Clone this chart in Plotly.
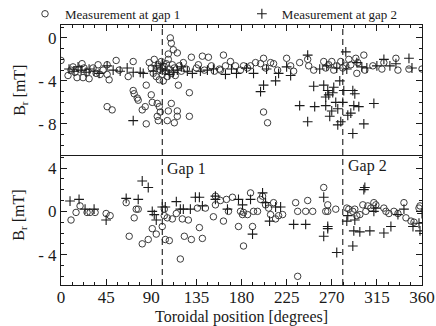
import plotly.graph_objects as go

# ---------------- data ----------------
# upper panel (B_r, mT) : circles = measurement at gap 1
top_gap1_deg = [0, 7, 10, 12, 14, 16, 18, 21, 22, 23, 26, 28, 32, 35, 37, 39, 42, 46, 46, 48, 46, 51, 55, 58,
                67, 72, 72, 73, 76, 77, 85, 81, 84, 90, 91, 96, 98, 99, 96, 97, 106, 113, 116, 107, 110, 116,
                85, 109, 110, 112, 107, 116, 117, 128, 128, 130, 137, 141, 147, 158,
                88, 90, 92, 93, 95, 97, 98, 99, 100, 101, 102, 103, 104, 105, 106, 107, 108, 110, 111, 113,
                114, 118, 120, 122, 125, 135, 143, 150, 153,
                162, 159, 164, 169, 174, 179, 182, 186, 189, 194, 199, 202, 204, 209, 212, 216, 202, 206,
                225, 229, 232, 238, 246, 247, 252, 262, 264, 267, 270, 272, 275, 279, 281, 284, 287, 289,
                294, 296, 295, 302, 303, 311, 320, 322, 334, 336, 347, 360]
top_gap1_val = [-2.1, -3.5, -3.0, -2.7, -3.2, -3.7, -2.9, -2.4, -3.7, -2.8, -3.2, -3.8, -2.8, -3.3, -2.5, -3.4,
                -3.0, -2.5, -3.4, -3.9, -6.4, -6.7, -2.1, -3.0,
                -3.6, -2.2, -4.9, -5.2, -5.6, -5.8, -4.4, -6.7, -6.4, -5.3, -6.0, -6.1, -6.4, -6.9, -7.3, -7.7,
                -7.7, -7.9, -7.3, -6.8, -6.1, -6.8,
                -8.0, 0.0, -0.5, -1.1, -1.5, -1.4, -4.4, -5.1, -7.3, -1.8, -2.5, -1.7, -1.8, -2.9,
                -2.3, -2.8, -3.3, -2.0, -3.6, -2.5, -3.9, -3.0, -2.2, -3.4, -4.0, -2.7, -3.1, -2.4, -3.6, -2.0,
                -2.9, -3.3, -2.5, -2.8, -3.5, -2.6, -3.1, -2.3, -2.9, -2.8, -3.0, -2.6, -3.1,
                -1.6, -3.0, -2.6, -2.2, -2.6, -3.0, -2.6, -2.8, -2.6, -2.3, -2.4, -1.9, -2.8, -2.3, -2.4, -3.0,
                -6.9, -7.9,
                -1.9, -2.6, -3.1, -2.3, -2.0, -2.6, -3.0, -2.2, -2.8, -2.5, -2.2, -3.0, -2.6, -2.2, -2.8, -2.6,
                -2.0, -2.5, -1.9, -2.3, -3.3, -1.6, -3.0, -2.6, -2.9, -2.3, -1.9, -3.0, -2.9, -2.9]

# upper panel : crosses = measurement at gap 2
top_gap2_deg = [8, 13, 17, 20, 25, 28, 33, 38, 46, 52, 59, 66, 72, 79, 82, 92, 99, 104, 112, 126, 131, 139, 146,
                152, 72, 95, 101, 108, 116, 120,
                164, 175, 192, 202, 199, 214, 217, 229, 238, 246, 246, 252, 253, 262, 264, 264, 266, 267, 268,
                270, 271, 272, 274, 276, 276, 278, 279, 281, 282, 284, 286, 289, 291, 291, 292, 293, 297, 302,
                312, 295, 300, 322, 334, 347, 170, 185, 205, 225, 258, 265, 275, 285, 305, 315, 328, 350]
top_gap2_val = [-2.9, -3.1, -2.7, -3.0, -3.2, -2.9, -3.1, -3.3, -2.6, -3.0, -3.1, -2.8, -3.2, -3.2, -3.3, -3.1,
                -2.9, -3.0, -3.2, -3.1, -3.3, -3.1, -3.0, -2.9, -7.7, -2.6, -2.4, -3.4, -3.0, -2.7,
                -3.4, -3.3, -3.3, -4.4, -5.0, -4.0, -3.3, -3.5, -6.3, -1.6, -7.8, -4.5, -6.4, -4.4, -5.5, -6.3,
                -4.9, -5.3, -7.3, -6.8, -5.1, -4.6, -6.0, -6.6, -8.1, -4.0, -7.8, -6.0, -4.9, -1.3, -7.2, -7.0,
                -8.9, -4.9, -6.3, -5.2, -6.4, -8.0, -6.1, -2.3, -2.7, -2.0, -2.4, -1.9, -2.9, -2.8, -2.9, -2.7,
                -2.9, -2.6, -2.8, -2.9, -2.8, -2.6, -2.6, -2.8]

# lower panel : circles = measurement at gap 1
bot_gap1_deg = [10, 15, 19, 26, 29, 34, 45, 49, 65, 68, 73, 75, 77, 81, 87, 91, 95, 101, 103, 103, 104, 108,
                106, 111, 115, 119, 121, 123, 127, 130, 136, 138, 141, 144, 152, 154,
                154, 159, 162, 165, 167, 171, 177, 179, 181, 182, 186, 189, 191, 192, 196, 199, 201, 204, 207,
                209, 212, 214, 217, 221, 182, 234, 236, 236, 244, 246, 251, 262, 264, 266, 266, 274, 285, 287,
                291, 293, 295, 298, 301, 304, 306, 309, 312, 314, 322, 324, 327, 332, 336, 342, 344, 349, 352,
                357, 358]
bot_gap1_val = [-0.8, -0.1, 0.5, -0.1, -0.1, -0.1, -0.2, -0.4, 0.8, -2.3, -0.6, 0.2, 0.2, -3.0, -2.6, -1.6,
                -2.1, -1.4, 0.2, -0.4, -2.6, -2.7, -0.6, -0.7, -0.2, -4.4, -0.7, -2.3, -0.8, -2.6, 0.3, -1.5,
                -2.5, 0.3, -0.5, 0.6,
                1.4, 1.0, -0.9, 1.1, 0.0, 1.3, -1.4, 0.0, -0.3, -0.1, -0.3, 1.7, -1.4, 0.0, 0.0, 1.1, 1.4, 0.6,
                0.3, -0.3, 0.8, -0.7, -0.4, -0.3, -3.2, 0.8, 0.0, -6.0, 0.0, 1.0, 0.0, 2.2, 0.0, 0.6, 0.0, 0.2,
                0.3, 0.2, 0.0, 0.2, -0.4, -0.3, 0.6, 0.0, 0.5, 0.3, 0.8, 0.6, 0.3, 0.0, -0.2, 0.0, -0.2, 0.8,
                -0.6, -0.9, -1.0, 0.3, 0.5]

# lower panel : crosses = measurement at gap 2
bot_gap2_deg = [9, 18, 24, 33, 45, 65, 77, 81, 87, 91, 93, 95, 101, 104, 115, 119, 122, 129, 134, 138, 141,
                154, 154, 166, 177, 181, 189, 191, 201, 204, 208, 214, 219, 232, 244, 262, 262, 266, 266, 275,
                285, 286, 291, 292, 293, 298, 302, 303, 308, 312, 314, 322, 329, 336, 342, 351, 357, 358, 360]
bot_gap2_val = [0.95, 1.1, 0.2, 0.2, -0.8, 1.2, 1.1, 2.8, 2.2, 0.0, -0.3, -0.8, 0.4, 0.4, 0.9, 0.2, 0.2, 0.2,
                1.3, 1.3, 0.5, 1.4, 1.1, 0.2, 1.1, 0.6, 1.1, -2.1, 1.7, 0.8, -0.9, 0.4, 0.4, -1.2, -1.2, 1.3,
                -2.3, -1.6, -1.4, -3.8, -0.9, -0.4, -3.2, -1.8, -0.8, -1.9, 2.0, 2.2, -1.8, 0.0, 0.3, -2.0,
                -1.4, -0.3, 0.2, -1.4, -1.1, -1.8, -0.2]

gap_positions = [101, 281]
gap_labels = ["Gap 1", "Gap 2"]
x_ticks = [0, 45, 90, 135, 180, 225, 270, 315, 360]
top_yticks = [0, -4, -8]
top_yticktext = ["0", "- 4", "- 8"]
bot_yticks = [4, 0, -4]
bot_yticktext = ["4", "0", "- 4"]
x_title = "Toroidal position [degrees]"
y_title = "B<sub>r</sub> [mT]"

# ---------------- figure ----------------
FONT = "Liberation Serif"
INK = "#1a1a1a"
CIRC = "#3c3c3c"

fig = go.Figure()
circ_marker = dict(symbol="circle-open", size=6.5, color=CIRC, line=dict(width=1, color=CIRC))
plus_marker = dict(symbol="cross-thin-open", size=7, color=INK, line=dict(width=1.1, color=INK))

fig.add_trace(go.Scatter(x=top_gap1_deg, y=top_gap1_val, mode="markers", marker=circ_marker,
                         name="Measurement at gap 1", xaxis="x2", yaxis="y2", legend="legend"))
fig.add_trace(go.Scatter(x=top_gap2_deg, y=top_gap2_val, mode="markers", marker=plus_marker,
                         name="Measurement at gap 2", xaxis="x2", yaxis="y2", legend="legend2"))
fig.add_trace(go.Scatter(x=bot_gap1_deg, y=bot_gap1_val, mode="markers", marker=circ_marker,
                         name="Measurement at gap 1", showlegend=False, xaxis="x", yaxis="y"))
fig.add_trace(go.Scatter(x=bot_gap2_deg, y=bot_gap2_val, mode="markers", marker=plus_marker,
                         name="Measurement at gap 2", showlegend=False, xaxis="x", yaxis="y"))

for g in gap_positions:
    fig.add_shape(type="line", x0=g, x1=g, xref="x", y0=0, y1=1, yref="paper",
                  line=dict(color=INK, width=1.1, dash="6px,4px"))

fig.add_annotation(x=gap_positions[0] + 3, y=3.9, xref="x", yref="y", text=gap_labels[0],
                   showarrow=False, xanchor="left", font=dict(family=FONT, size=16, color=INK))
fig.add_annotation(x=gap_positions[1] + 3, y=4.2, xref="x", yref="y", text=gap_labels[1],
                   showarrow=False, xanchor="left", font=dict(family=FONT, size=16, color=INK))

# axis titles
fig.add_annotation(x=0.5, y=-0.123, xref="paper", yref="paper", text=x_title, showarrow=False,
                   xanchor="center", yanchor="middle", font=dict(family=FONT, size=16, color=INK))
for ypos in (0.75, 0.27):
    fig.add_annotation(x=-0.114, y=ypos, xref="paper", yref="paper", text=y_title, showarrow=False,
                       textangle=-90, xanchor="center", yanchor="middle",
                       font=dict(family=FONT, size=16, color=INK))

axis_common = dict(showline=True, linecolor=INK, linewidth=1, ticks="inside", tickcolor=INK,
                   showgrid=False, zeroline=False, automargin=False,
                   tickfont=dict(family=FONT, size=17, color=INK))
leg_common = dict(orientation="h", xanchor="left", y=1.043, yanchor="middle",
                  font=dict(family=FONT, size=13, color=INK), bgcolor="rgba(0,0,0,0)", itemclick=False)

fig.update_layout(
    width=436, height=326,
    margin=dict(l=61, r=14, t=25, b=41, autoexpand=False),
    paper_bgcolor="white", plot_bgcolor="white",
    font=dict(family=FONT, color=INK),
    showlegend=True,
    legend=dict(leg_common, x=-0.0997),
    legend2=dict(leg_common, x=0.501),
    xaxis=dict(axis_common, domain=[0, 1], anchor="y", range=[0, 360], tickvals=x_ticks, ticklen=6,
               mirror=False, ticklabelstandoff=-3,
               minor=dict(tickmode="linear", tick0=0, dtick=11.25, ticklen=3, ticks="inside", tickcolor=INK)),
    xaxis2=dict(axis_common, domain=[0, 1], anchor="y2", range=[0, 360], tickvals=x_ticks, ticklen=6,
                side="top", mirror=True, showticklabels=False, matches="x",
                minor=dict(tickmode="linear", tick0=0, dtick=11.25, ticklen=3, ticks="inside", tickcolor=INK)),
    yaxis=dict(axis_common, domain=[0, 0.5], anchor="x", range=[-6.8, 5.2], tickvals=bot_yticks,
               ticktext=bot_yticktext, ticklen=6, mirror="allticks", ticklabelstandoff=0,
               minor=dict(tickmode="linear", tick0=0, dtick=1, ticklen=3, ticks="inside", tickcolor=INK)),
    yaxis2=dict(axis_common, domain=[0.5, 1], anchor="x2", range=[-10.9, 1.2], tickvals=top_yticks,
                ticktext=top_yticktext, ticklen=6, mirror="allticks", ticklabelstandoff=0,
                minor=dict(tickmode="linear", tick0=0, dtick=1, ticklen=3, ticks="inside", tickcolor=INK)),
)

fig.write_html("out.html", config={"displayModeBar": False},
               post_script="document.body.style.margin='0';")
